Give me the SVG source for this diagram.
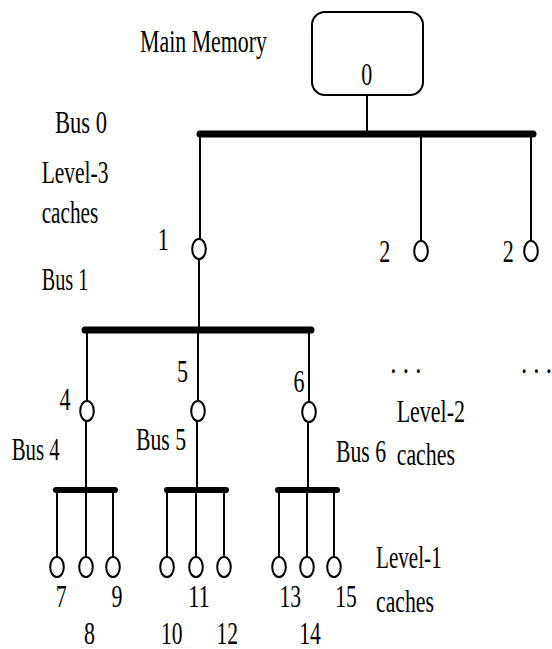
<svg xmlns="http://www.w3.org/2000/svg" width="552" height="649" viewBox="0 0 552 649">
  <style>
    text { font-family: "Liberation Serif", "Times New Roman", serif; font-size: 31px; fill: #000; }
    .num { text-anchor: middle; }
    .wire { stroke: #000; stroke-width: 2; fill: none; }
    .bus { stroke: #000; stroke-width: 7; stroke-linecap: round; fill: none; }
    .bus-s { stroke: #000; stroke-width: 6; stroke-linecap: round; fill: none; }
    .cache { fill: #fff; stroke: #000; stroke-width: 2; }
    .mem { fill: #fff; stroke: #000; stroke-width: 2; }
  </style>

  <!-- connectors: buses and the wires hanging from them -->
  <g id="connectors">
    <line class="wire" x1="367" y1="95" x2="367" y2="134"/>
    <line class="bus" x1="200" y1="134" x2="533" y2="134"/>
    <line class="wire" x1="200" y1="134" x2="200" y2="240"/>
    <line class="wire" x1="421" y1="134" x2="421" y2="242"/>
    <line class="wire" x1="531" y1="134" x2="531" y2="242"/>

    <line class="wire" x1="199" y1="258" x2="199" y2="330"/>
    <line class="bus" x1="85" y1="330" x2="311" y2="330"/>
    <line class="wire" x1="87" y1="330" x2="87" y2="402"/>
    <line class="wire" x1="198" y1="330" x2="198" y2="402"/>
    <line class="wire" x1="309" y1="330" x2="309" y2="403"/>

    <line class="wire" x1="86" y1="420" x2="86" y2="490"/>
    <line class="wire" x1="197" y1="420" x2="197" y2="490"/>
    <line class="wire" x1="308" y1="421" x2="308" y2="490"/>

    <line class="bus-s" x1="56" y1="490" x2="115" y2="490"/>
    <line class="bus-s" x1="167" y1="490" x2="226" y2="490"/>
    <line class="bus-s" x1="278" y1="490" x2="337" y2="490"/>

    <line class="wire" x1="57" y1="490" x2="57" y2="558"/>
    <line class="wire" x1="86" y1="490" x2="86" y2="558"/>
    <line class="wire" x1="113" y1="490" x2="113" y2="558"/>
    <line class="wire" x1="167" y1="490" x2="167" y2="558"/>
    <line class="wire" x1="196" y1="490" x2="196" y2="558"/>
    <line class="wire" x1="224" y1="490" x2="224" y2="558"/>
    <line class="wire" x1="279" y1="490" x2="279" y2="558"/>
    <line class="wire" x1="307" y1="490" x2="307" y2="558"/>
    <line class="wire" x1="334" y1="490" x2="334" y2="558"/>
  </g>

  <!-- main memory -->
  <g id="node-0">
    <rect class="mem" x="312" y="12" width="111" height="83" rx="13"/>
    <text class="num" x="366.7" y="85" textLength="11" lengthAdjust="spacingAndGlyphs">0</text>
  </g>

  <!-- level-3 caches -->
  <g id="node-1">
    <ellipse class="cache" cx="199" cy="249" rx="6.8" ry="10"/>
    <text class="num" x="163.3" y="250" textLength="11" lengthAdjust="spacingAndGlyphs">1</text>
  </g>
  <g id="node-2a">
    <ellipse class="cache" cx="421" cy="251" rx="6.8" ry="10"/>
    <text class="num" x="384.7" y="261.7" textLength="11" lengthAdjust="spacingAndGlyphs">2</text>
  </g>
  <g id="node-2b">
    <ellipse class="cache" cx="531" cy="251" rx="6.8" ry="10"/>
    <text class="num" x="508.3" y="261.7" textLength="11" lengthAdjust="spacingAndGlyphs">2</text>
  </g>

  <!-- level-2 caches -->
  <g id="node-4">
    <ellipse class="cache" cx="87" cy="411" rx="6.8" ry="10"/>
    <text class="num" x="65" y="410" textLength="11" lengthAdjust="spacingAndGlyphs">4</text>
  </g>
  <g id="node-5">
    <ellipse class="cache" cx="198" cy="411" rx="6.8" ry="10"/>
    <text class="num" x="182.5" y="381.7" textLength="11" lengthAdjust="spacingAndGlyphs">5</text>
  </g>
  <g id="node-6">
    <ellipse class="cache" cx="309" cy="412" rx="6.8" ry="10"/>
    <text class="num" x="299" y="391.7" textLength="11" lengthAdjust="spacingAndGlyphs">6</text>
  </g>

  <!-- level-1 caches -->
  <g id="node-7">
    <ellipse class="cache" cx="57" cy="567" rx="6.8" ry="10"/>
    <text class="num" x="61.3" y="606.7" textLength="11" lengthAdjust="spacingAndGlyphs">7</text>
  </g>
  <g id="node-8">
    <ellipse class="cache" cx="86" cy="567" rx="6.8" ry="10"/>
    <text class="num" x="89.5" y="644" textLength="11" lengthAdjust="spacingAndGlyphs">8</text>
  </g>
  <g id="node-9">
    <ellipse class="cache" cx="113" cy="567" rx="6.8" ry="10"/>
    <text class="num" x="117" y="606.7" textLength="11" lengthAdjust="spacingAndGlyphs">9</text>
  </g>
  <g id="node-10">
    <ellipse class="cache" cx="167" cy="567" rx="6.8" ry="10"/>
    <text class="num" x="171.7" y="644" textLength="21.6" lengthAdjust="spacingAndGlyphs">10</text>
  </g>
  <g id="node-11">
    <ellipse class="cache" cx="196" cy="567" rx="6.8" ry="10"/>
    <text class="num" x="199" y="606.7" textLength="21.6" lengthAdjust="spacingAndGlyphs">11</text>
  </g>
  <g id="node-12">
    <ellipse class="cache" cx="224" cy="567" rx="6.8" ry="10"/>
    <text class="num" x="227.3" y="644" textLength="21.6" lengthAdjust="spacingAndGlyphs">12</text>
  </g>
  <g id="node-13">
    <ellipse class="cache" cx="279" cy="567" rx="6.8" ry="10"/>
    <text class="num" x="290.3" y="606.7" textLength="21.6" lengthAdjust="spacingAndGlyphs">13</text>
  </g>
  <g id="node-14">
    <ellipse class="cache" cx="307" cy="567" rx="6.8" ry="10"/>
    <text class="num" x="310" y="644" textLength="21.6" lengthAdjust="spacingAndGlyphs">14</text>
  </g>
  <g id="node-15">
    <ellipse class="cache" cx="334" cy="567" rx="6.8" ry="10"/>
    <text class="num" x="346" y="606.7" textLength="21.6" lengthAdjust="spacingAndGlyphs">15</text>
  </g>

  <!-- labels -->
  <g id="labels">
    <text x="140" y="52" textLength="127" lengthAdjust="spacingAndGlyphs">Main Memory</text>
    <text x="55" y="133" textLength="52" lengthAdjust="spacingAndGlyphs">Bus 0</text>
    <text x="41.7" y="183.3" textLength="66.7" lengthAdjust="spacingAndGlyphs">Level-3</text>
    <text x="41.7" y="223.3" textLength="56.6" lengthAdjust="spacingAndGlyphs">caches</text>
    <text x="41.7" y="290" textLength="46.6" lengthAdjust="spacingAndGlyphs">Bus 1</text>
    <text x="11.7" y="460" textLength="48" lengthAdjust="spacingAndGlyphs">Bus 4</text>
    <text x="136" y="450" textLength="50" lengthAdjust="spacingAndGlyphs">Bus 5</text>
    <text x="336" y="461.7" textLength="50" lengthAdjust="spacingAndGlyphs">Bus 6</text>
    <text x="396.7" y="421.7" textLength="68.3" lengthAdjust="spacingAndGlyphs">Level-2</text>
    <text x="396.7" y="465" textLength="58.3" lengthAdjust="spacingAndGlyphs">caches</text>
    <text x="376" y="568" textLength="65.7" lengthAdjust="spacingAndGlyphs">Level-1</text>
    <text x="376" y="612" textLength="58" lengthAdjust="spacingAndGlyphs">caches</text>
    <text x="390.2" y="373" textLength="31.2" lengthAdjust="spacingAndGlyphs">. . .</text>
    <text x="520.9" y="373" textLength="31.2" lengthAdjust="spacingAndGlyphs">. . .</text>
  </g>
</svg>
